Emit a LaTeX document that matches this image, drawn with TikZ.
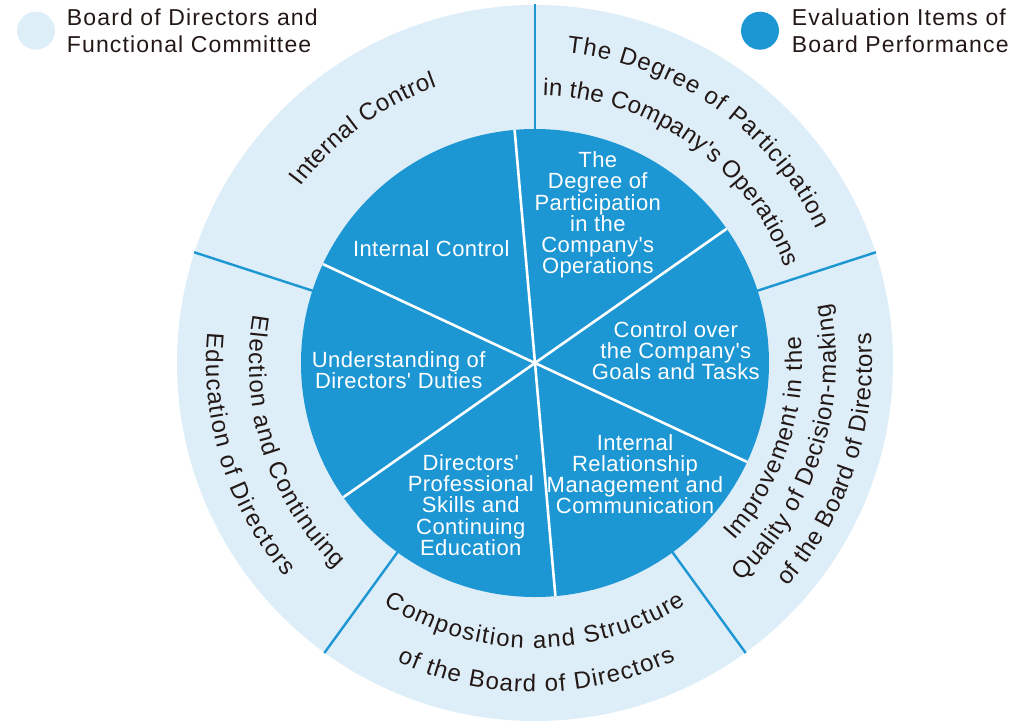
\documentclass[tikz,border=0pt]{standalone}
\usepackage{fontspec}
\setmainfont{Liberation Sans}[Ligatures=TeXOff]
\newfontfamily\innerfont{Liberation Sans}[LetterSpace=2,Ligatures=TeXOff]
\newfontfamily\legendfont{Liberation Sans}[LetterSpace=5,Ligatures=TeXOff]
\usetikzlibrary{decorations.text}
\definecolor{pieblue}{RGB}{29,150,212}
\definecolor{ringblue}{RGB}{221,238,249}
\definecolor{txt}{RGB}{35,24,21}
\newcommand\outerfont{\fontsize{24}{24}\selectfont}
\begin{document}
\begin{tikzpicture}[
  innerlbl/.style={text=white, font=\innerfont\fontsize{22}{21.2}\selectfont, align=center, inner sep=0pt},
  legendlbl/.style={text=txt, font=\legendfont\fontsize{23}{26.7}\selectfont, align=left, inner sep=0pt, anchor=west},
  legdot/.style={circle, inner sep=0pt, minimum size=38pt},
  divw/.style={draw=white, line width=2.6pt},
  divb/.style={draw=pieblue, line width=2.4pt},
  arctext/.style={decorate, decoration={text along path, text color=txt, text align={fit to path}, text={|\outerfont|#1}}}
]
\useasboundingbox (-535pt,-358pt) rectangle (500pt,363pt);

% rings
\fill[ringblue] (0,0) circle[radius=358pt];
\fill[pieblue] (0,0) circle[radius=234pt];
\foreach \a in {95,35,-25,-85,-145,155} \draw[divw] (0,0) -- (\a:234pt);
\foreach \a in {90,18,-54,-126,162} \draw[divb] (\a:233pt) -- (\a:358.5pt);

% legend
\node[legdot, fill=ringblue] (legdot1) at (-499pt,332.3pt) {};
\node[legendlbl] (leg1) at (-468.3pt,332.5pt) {Board of Directors and\\Functional Committee};
\node[legdot, fill=pieblue] (legdot2) at (225pt,332.3pt) {};
\node[legendlbl] (leg2) at (256.7pt,332.5pt) {Evaluation Items of\\Board Performance};

% inner labels
\node[innerlbl] (in1) at (-103.7pt,114.3pt) {Internal Control};
\node[innerlbl] (in2) at (62.8pt,148pt) {The\\Degree of\\Participation\\in the\\Company's\\Operations};
\node[innerlbl] (in3) at (140.8pt,12.5pt) {Control over\\the Company's\\Goals and Tasks};
\node[innerlbl] (in4) at (-136.3pt,-7pt) {Understanding of\\Directors' Duties};
\node[innerlbl] (in5) at (100pt,-111.2pt) {Internal\\Relationship\\Management and\\Communication};
\node[innerlbl] (in6) at (-64.2pt,-142pt) {Directors'\\Professional\\Skills and\\Continuing\\Education};

% outer curved labels (clockwise, tops outward)
\path[arctext={Internal Control}] (143.0:293pt) arc[start angle=143.0, end angle=109.6, radius=293pt];
\path[arctext={The Degree of Participation}] (84.15:312pt) arc[start angle=84.15, end angle=25.45, radius=312pt];
\path[arctext={in the Company's Operations}] (88.3:268pt) arc[start angle=88.3, end angle=20.9, radius=268pt];

% outer curved labels (counterclockwise, tops inward)
\path[arctext={Improvement in the}] (-41.75:267pt) arc[start angle=-41.75, end angle=5.75, radius=267pt];
\path[arctext={Quality of Decision-making}] (-46.6:301pt) arc[start angle=-46.6, end angle=11.3, radius=301pt];
\path[arctext={of the Board of Directors}] (-41.6:337pt) arc[start angle=-41.6, end angle=5.1, radius=337pt];

\path[arctext={Composition and Structure}] (-122:285pt) arc[start angle=-122, end angle=-58, radius=285pt];
\path[arctext={of the Board of Directors}] (-114.8:329pt) arc[start angle=-114.8, end angle=-64.7, radius=329pt];

\path[arctext={Election and Continuing}] (170.3:286pt) arc[start angle=170.3, end angle=226, radius=286pt];
\path[arctext={Education of Directors}] (174.7:329pt) arc[start angle=174.7, end angle=220.5, radius=329pt];
\end{tikzpicture}
\end{document}
